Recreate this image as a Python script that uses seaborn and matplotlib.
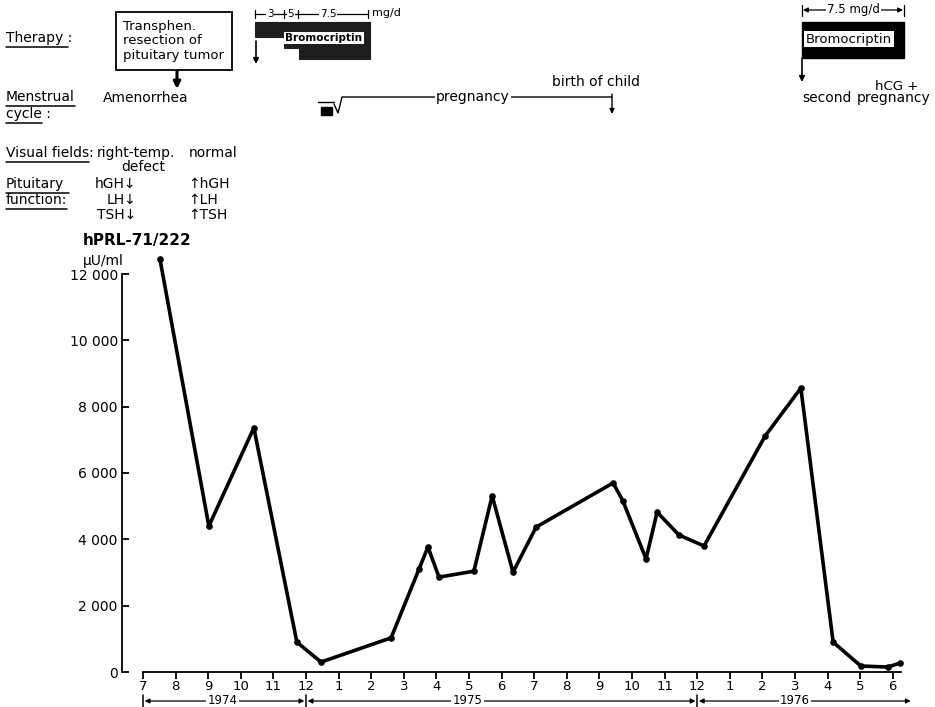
import numpy as np
import pandas as pd
import matplotlib
matplotlib.use("Agg")
import matplotlib.pyplot as plt
import seaborn as sns
from matplotlib.patches import Polygon, Rectangle, FancyArrowPatch
from matplotlib.lines import Line2D

# ---------------- data ----------------
# month index: 0 = July 1974
month_pos = [0.52, 2.02, 3.40, 4.72, 5.46, 7.61, 8.47, 8.74, 9.08, 10.15, 10.71,
             11.35, 12.06, 14.42, 14.72, 15.43, 15.77, 16.44, 17.21, 19.08,
             20.18, 21.17, 22.02, 22.85, 23.22]
hprl = [12450, 4400, 7360, 900, 300, 1030, 3110, 3770, 2860, 3040, 5310,
        3010, 4370, 5700, 5160, 3410, 4820, 4130, 3800, 7110,
        8560, 900, 180, 150, 270]
month_labels = ['7', '8', '9', '10', '11', '12',
                '1', '2', '3', '4', '5', '6', '7', '8', '9', '10', '11', '12',
                '1', '2', '3', '4', '5', '6']
y_ticks = [0, 2000, 4000, 6000, 8000, 10000, 12000]
y_labels = ['0', '2 000', '4 000', '6 000', '8 000', '10 000', '12 000']
years = ['1974', '1975', '1976']

df = pd.DataFrame({'month': month_pos, 'hPRL': hprl})

# ---------------- figure ----------------
W, H = 935, 707
sns.set_style('ticks')
plt.rcParams['font.family'] = ['DejaVu Sans']
for k in ['text.color', 'xtick.color', 'ytick.color', 'axes.labelcolor', 'axes.edgecolor']:
    plt.rcParams[k] = 'black'
fig = plt.figure(figsize=(W / 100, H / 100), dpi=100)


def P(x, y):
    return (x / W, 1 - y / H)


px_per_month = 32.6
x0_px = 143
ax_left_px, ax_right_px = 122, 915
ax_bot_px, ax_top_px = 672, 254
ax = fig.add_axes([ax_left_px / W, 1 - ax_bot_px / H,
                   (ax_right_px - ax_left_px) / W, (ax_bot_px - ax_top_px) / H])
ax.patch.set_alpha(0)

sns.lineplot(data=df, x='month', y='hPRL', sort=False, color='black',
             linewidth=2.6, marker='o', markersize=4.8, markeredgewidth=0,
             ax=ax, clip_on=False)

ax.set_xlim((ax_left_px - x0_px) / px_per_month, (ax_right_px - x0_px) / px_per_month)
ymax = 12000 * (ax_bot_px - ax_top_px) / (672 - 274)
ax.set_ylim(0, ymax)
ax.set_xlabel('')
ax.set_ylabel('')
sns.despine(ax=ax)
ax.spines['bottom'].set_bounds(0, 23.25)
ax.spines['left'].set_bounds(0, 12000)
for s in ['left', 'bottom']:
    ax.spines[s].set_linewidth(1.3)
ax.set_xticks(range(len(month_labels)))
ax.set_xticklabels(month_labels, fontsize=9.5)
ax.set_yticks(y_ticks)
ax.set_yticklabels(y_labels, fontsize=10)
ax.tick_params(axis='x', direction='out', length=5, width=1.3, pad=1)
ax.tick_params(axis='y', direction='in', length=5, width=1.3, pad=3)

# year spans under axis
tr = ax.get_xaxis_transform()
yy = -(701 - ax_bot_px) / (ax_bot_px - ax_top_px)
bar_h = 6 / (ax_bot_px - ax_top_px)
spans = [(0, 5, 2.45), (5, 17, 9.95), (17, 23.6, 20.0)]
for (a, b, c), lab in zip(spans, years):
    ax.annotate('', xy=(a + 0.05, yy), xytext=(b - 0.05, yy), xycoords=tr, textcoords=tr,
                arrowprops=dict(arrowstyle='<|-|>', color='black', lw=0.9,
                                mutation_scale=7, shrinkA=0, shrinkB=0),
                annotation_clip=False)
    ax.text(c, yy, lab, transform=tr, ha='center', va='center', fontsize=8.5,
            bbox=dict(facecolor='white', edgecolor='none', pad=1.0), clip_on=False)
for xb in [0, 5, 17]:
    ax.add_line(Line2D([xb, xb], [yy - bar_h, yy + bar_h], transform=tr,
                       color='black', lw=1.1, clip_on=False))

# axis title
fig.text(*P(83, 241), 'hPRL-71/222', fontsize=11, fontweight='bold', va='center', ha='left')
fig.text(*P(83, 261), 'µU/ml', fontsize=10, va='center', ha='left')

# ---------------- header annotations ----------------
fs = 10
underlined = []


def T(x, y, s, ul=False, **kw):
    kw.setdefault('fontsize', fs)
    kw.setdefault('va', 'center')
    kw.setdefault('ha', 'left')
    t = fig.text(*P(x, y), s, **kw)
    if ul:
        underlined.append((t, ul))
    return t


T(6, 38, 'Therapy :', ul='Therapy ', fontweight='medium')
T(6, 97, 'Menstrual', ul=True, fontweight='medium')
T(6, 114, 'cycle :', ul='cycle', fontweight='medium')
T(6, 153, 'Visual fields:', ul='Visual fields', fontweight='medium')
T(6, 184, 'Pituitary', ul='Pituitary ', fontweight='medium')
T(6, 200, 'function:', ul=True, fontweight='medium')

T(103, 98, 'Amenorrhea')
T(97, 153, 'right-temp.')
T(121, 167, 'defect')
T(189, 153, 'normal')
for yv, lab in zip([184, 200, 215], ['hGH', 'LH', 'TSH']):
    T(136, yv, lab + '↓', ha='right')
    T(188, yv, '↑' + lab)

# surgery box
fig.patches.append(Rectangle(P(116, 70), 116 / W, 58 / H, transform=fig.transFigure,
                             facecolor='white', edgecolor='black', lw=1.3))
T(123, 41, 'Transphen.\nresection of\npituitary tumor', fontsize=9.5, linespacing=1.15)
fig.add_artist(FancyArrowPatch(P(177, 70), P(177, 89),
               transform=fig.transFigure, arrowstyle='-|>', mutation_scale=10,
               lw=2.2, color='black', shrinkA=0, shrinkB=0))

# first bromocriptin course
poly_px = [(255, 22), (370, 22), (370, 59), (299, 59), (299, 48), (284, 48), (284, 37), (255, 37)]
fig.patches.append(Polygon([P(*p) for p in poly_px], closed=True, transform=fig.transFigure,
                           facecolor='#1e1e1e', edgecolor='#1e1e1e', lw=0.8))
T(324, 38, 'Bromocriptin', fontsize=7.5, ha='center', fontweight='bold',
  bbox=dict(facecolor='white', edgecolor='none', pad=1.0))
# dose line
fig.add_artist(Line2D([255 / W, 368 / W], [1 - 14 / H] * 2, transform=fig.transFigure,
                      color='black', lw=0.9))
for xb in [255, 284, 298, 368]:
    fig.add_artist(Line2D([xb / W] * 2, [1 - 10 / H, 1 - 18 / H], transform=fig.transFigure,
                          color='black', lw=0.9))
for xc, lab in [(270, '3'), (291, '5'), (328, '7.5')]:
    T(xc, 14, lab, fontsize=7.5, ha='center',
      bbox=dict(facecolor='white', edgecolor='none', pad=0.6))
T(372, 13, 'mg/d', fontsize=8)
fig.add_artist(FancyArrowPatch(P(256, 41), P(256, 64),
               transform=fig.transFigure, arrowstyle='-|>', mutation_scale=8,
               lw=1.2, color='black', shrinkA=0, shrinkB=0))

# menstrual cycle / pregnancy
fig.patches.append(Rectangle(P(321, 115), 11 / W, 8 / H, transform=fig.transFigure,
                             facecolor='black', edgecolor='black'))
fig.add_artist(Line2D([318 / W, 334 / W], [1 - 102 / H] * 2, transform=fig.transFigure,
                      color='black', lw=1.0))
xs = [334, 338, 342, 612]
ys = [104, 113, 97, 97]
fig.add_artist(Line2D([x / W for x in xs], [1 - y / H for y in ys], transform=fig.transFigure,
                      color='black', lw=1.0))
T(473, 97, 'pregnancy', ha='center', bbox=dict(facecolor='white', edgecolor='none', pad=1))
fig.add_artist(FancyArrowPatch(P(612, 94), P(612, 114),
               transform=fig.transFigure, arrowstyle='-|>', mutation_scale=7,
               lw=1.0, color='black', shrinkA=0, shrinkB=0))
T(596, 82, 'birth of child', ha='center')

# second bromocriptin course
fig.patches.append(Rectangle(P(802, 58), 102 / W, 36 / H, transform=fig.transFigure,
                             facecolor='black', edgecolor='black'))
T(849, 39, 'Bromocriptin', fontsize=9.5, ha='center',
  bbox=dict(facecolor='white', edgecolor='none', pad=1.2))
fig.add_artist(FancyArrowPatch(P(803, 10), P(903, 10),
               transform=fig.transFigure, arrowstyle='<|-|>', mutation_scale=7,
               lw=0.9, color='black', shrinkA=0, shrinkB=0))
for xb in [802, 904]:
    fig.add_artist(Line2D([xb / W] * 2, [1 - 5 / H, 1 - 16 / H], transform=fig.transFigure,
                          color='black', lw=0.9))
T(853, 10, '7.5 mg/d', fontsize=8.5, ha='center',
  bbox=dict(facecolor='white', edgecolor='none', pad=0.8))
fig.add_artist(FancyArrowPatch(P(802, 58), P(802, 82),
               transform=fig.transFigure, arrowstyle='-|>', mutation_scale=8,
               lw=1.2, color='black', shrinkA=0, shrinkB=0))
T(802, 98, 'second')
T(897, 86, 'hCG +', ha='center', fontsize=9.5)
T(894, 98, 'pregnancy', ha='center')

# underlines
fig.canvas.draw()
renderer = fig.canvas.get_renderer()
for t, ul in underlined:
    bb = t.get_window_extent(renderer)
    if isinstance(ul, str) and ul != t.get_text():
        tmp = fig.text(0, 0, ul, fontsize=t.get_fontsize(), fontweight=t.get_fontweight())
        w = tmp.get_window_extent(renderer).width
        tmp.remove()
    else:
        w = bb.width
    yline = bb.y0 - 1.5
    fig.add_artist(Line2D([bb.x0 / W, (bb.x0 + w) / W], [yline / H, yline / H],
                          transform=fig.transFigure, color='black', lw=1.1))

fig.savefig('out.png', dpi=100)
